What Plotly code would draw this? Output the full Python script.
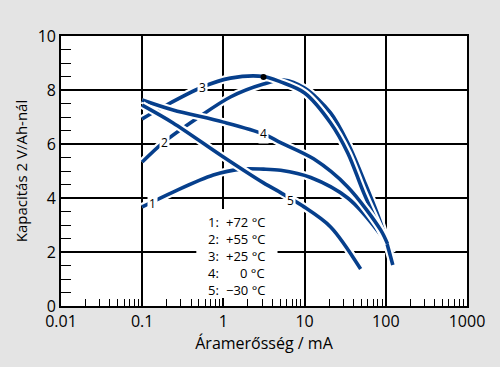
import plotly.graph_objects as go
import math

# Curve data (current in mA, capacity)
c1_x = [0.1, 0.24, 0.75, 1.62, 3.12, 5.06, 11.9, 34, 86.7, 120]
c1_y = [3.67, 4.22, 4.85, 5.07, 5.07, 5.03, 4.76, 4.0, 2.63, 1.95]
c2_x = [0.1, 0.18, 0.48, 1.22, 3.12, 5.5, 10, 20.9, 34, 53.5, 86.7, 122]
c2_y = [5.33, 6.04, 6.96, 7.74, 8.22, 8.37, 8.07, 7.15, 6.04, 4.67, 3.07, 1.52]
c3_x = [0.1, 0.18, 0.55, 1.22, 3.12, 5.06, 10, 20.9, 34, 53.5, 94]
c3_y = [6.93, 7.37, 8.11, 8.44, 8.5, 8.3, 7.89, 6.78, 5.67, 4.19, 2.56]
c4_x = [0.1, 0.24, 1.0, 3.12, 5.06, 12.9, 34, 86.7, 105]
c4_y = [7.63, 7.26, 6.81, 6.37, 6.05, 5.45, 4.41, 2.81, 2.3]
c5_x = [0.1, 0.24, 1.0, 3.12, 5.06, 9.3, 20.9, 49]
c5_y = [7.44, 6.78, 5.52, 4.56, 4.2, 3.72, 2.93, 1.37]

curves = [(c1_x, c1_y), (c2_x, c2_y), (c3_x, c3_y), (c4_x, c4_y), (c5_x, c5_y)]

curve_labels = ["1", "2", "3", "4", "5"]
label_x = [0.133, 0.19, 0.55, 3.12, 6.7]
label_y = [3.81, 6.04, 8.11, 6.4, 3.9]

peak_x = [3.12]
peak_y = [8.48]

legend_nums = ["1:", "2:", "3:", "4:", "5:"]
legend_temps = ["+72 °C", "+55 °C", "+25 °C", "0 °C", "−30 °C"]
legend_rows_y = [3.11, 2.48, 1.85, 1.22, 0.6]

BLUE = "#063f8c"
FONT = "Open Sans"

fig = go.Figure()

# white box behind legend text
fig.add_shape(type="rect", xref="x", yref="y", x0=0.464, x1=4.64, y0=0.3, y1=3.59,
              fillcolor="white", line=dict(width=0), layer="above")

for cx, cy in curves:
    fig.add_trace(go.Scatter(x=cx, y=cy, mode="lines", line=dict(color="white", width=8, shape="spline", smoothing=0.9),
                             hoverinfo="skip", showlegend=False))
    fig.add_trace(go.Scatter(x=cx, y=cy, mode="lines", line=dict(color=BLUE, width=3.6, shape="spline", smoothing=0.9),
                             showlegend=False))

fig.add_trace(go.Scatter(x=peak_x, y=peak_y, mode="markers", marker=dict(color="black", size=6),
                         showlegend=False))

for t, lx, ly in zip(curve_labels, label_x, label_y):
    fig.add_annotation(x=math.log10(lx), y=ly, text=t, showarrow=False, bgcolor="white",
                       font=dict(family=FONT, size=12, color="black"), borderpad=1)

for n, tmp, ry in zip(legend_nums, legend_temps, legend_rows_y):
    fig.add_annotation(x=-0.21, y=ry, text=n, showarrow=False, xanchor="left",
                       font=dict(family=FONT, size=13, color="black"))
    fig.add_annotation(x=0.531, y=ry, text=tmp, showarrow=False, xanchor="right",
                       font=dict(family=FONT, size=13, color="black"))

fig.update_layout(
    width=500, height=367,
    margin=dict(l=61, r=33, t=36, b=61),
    paper_bgcolor="#e4e4e4", plot_bgcolor="white",
    font=dict(family=FONT, size=16, color="black"),
)
fig.update_xaxes(type="log", range=[-2, 3], dtick=1, automargin=False,
                 showgrid=True, gridcolor="black", gridwidth=1.5,
                 showline=True, linecolor="black", linewidth=1.6, mirror=True,
                 ticks="", zeroline=False,
                 minor=dict(ticks="inside", ticklen=7, tickcolor="black", tickwidth=1.3),
                 title=dict(text="Áramerősség / mA", font=dict(size=16), standoff=2),
                 tickfont=dict(size=16))
fig.update_yaxes(range=[0, 10], dtick=2, automargin=False,
                 showgrid=True, gridcolor="black", gridwidth=1.5,
                 showline=True, linecolor="black", linewidth=1.6, mirror=True,
                 ticks="", zeroline=False,
                 minor=dict(ticks="inside", ticklen=10, dtick=0.5, tickcolor="black", tickwidth=1.3),
                 title=dict(text="Kapacitás 2 V/Ah-nál", font=dict(size=15), standoff=6),
                 tickfont=dict(size=16))

fig.write_html("out.html", config={"displayModeBar": False},
               post_script="document.body.style.margin='0';document.body.style.background='#e4e4e4';")
